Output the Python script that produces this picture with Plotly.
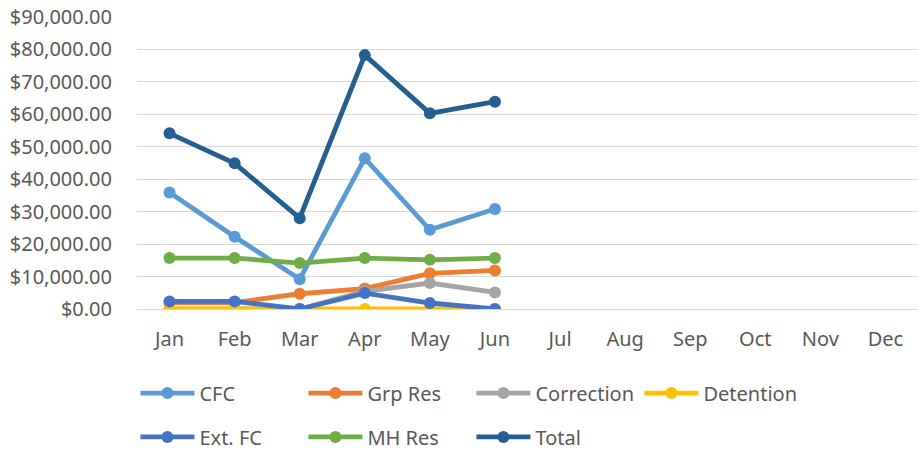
import plotly.graph_objects as go

months = ["Jan", "Feb", "Mar", "Apr", "May", "Jun", "Jul", "Aug", "Sep", "Oct", "Nov", "Dec"]
data_months = ["Jan", "Feb", "Mar", "Apr", "May", "Jun"]

cfc = [35900, 22300, 9200, 46450, 24400, 30850]
grp_res = [2000, 2000, 4700, 6300, 11000, 11900]
correction = [0, 0, 0, 5400, 8000, 5100]
detention = [0, 0, 0, 0, 0, 0]
ext_fc = [2350, 2350, 0, 4900, 1850, 0]
mh_res = [15700, 15700, 14150, 15700, 15150, 15700]
total = [54150, 44900, 28000, 78250, 60300, 63900]

series = [
    ("CFC", cfc, "#5B9BD5", "legend"),
    ("Grp Res", grp_res, "#ED7D31", "legend"),
    ("Correction", correction, "#A5A5A5", "legend"),
    ("Detention", detention, "#FFC000", "legend"),
    ("Ext. FC", ext_fc, "#4472C4", "legend2"),
    ("MH Res", mh_res, "#70AD47", "legend2"),
    ("Total", total, "#255E91", "legend2"),
]

fig = go.Figure()
for name, vals, color, leg in series:
    fig.add_trace(go.Scatter(
        x=data_months, y=vals, name=name, mode="lines+markers",
        line=dict(color=color, width=4.8),
        marker=dict(color=color, size=12),
        legend=leg,
    ))

font = dict(family="Noto Sans", size=20, color="#595959")
legend_common = dict(
    orientation="h", xanchor="left", yanchor="middle",
    font=font, itemwidth=54, entrywidth=99, entrywidthmode="pixels",
    bgcolor="rgba(0,0,0,0)", traceorder="normal",
)

fig.update_layout(
    width=919, height=455,
    margin=dict(l=137, r=1, t=17, b=146, autoexpand=False),
    paper_bgcolor="white", plot_bgcolor="white",
    font=font,
    showlegend=True,
    legend=dict(x=-0.002, y=-0.288, **legend_common),
    legend2=dict(x=-0.002, y=-0.438, **legend_common),
    xaxis=dict(
        type="category", categoryorder="array", categoryarray=months,
        range=[-0.5, 11.5], showgrid=False, showline=True,
        linecolor="#D9D9D9", linewidth=1, ticks="",
        tickfont=font, ticklabelstandoff=12, automargin=False,
    ),
    yaxis=dict(
        range=[0, 90000], dtick=10000, tickformat="$,.2f",
        showgrid=True, gridcolor="#D9D9D9", gridwidth=1,
        zeroline=False, showline=False, ticks="",
        tickfont=font, ticklabelstandoff=24, automargin=False,
    ),
)

fig.write_html(
    "out.html",
    config={"displayModeBar": False},
    post_script="document.body.style.margin='0';document.body.style.overflow='hidden';",
)
